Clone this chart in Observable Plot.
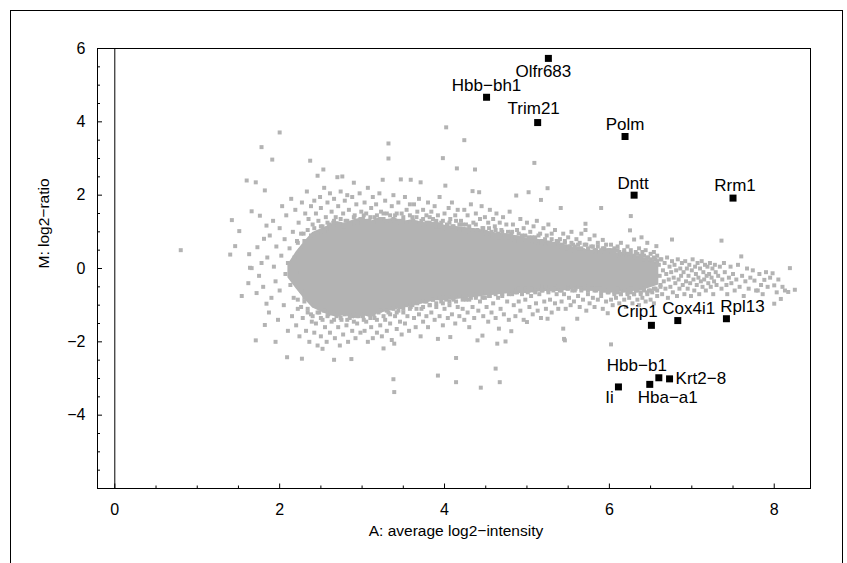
<!DOCTYPE html>
<html><head><meta charset="utf-8">
<script src="https://cdn.jsdelivr.net/npm/d3@7"></script>
<script src="https://cdn.jsdelivr.net/npm/@observablehq/plot@0.6"></script>
<style>
body{margin:0;background:#fff;}
#wrap{position:relative;width:847px;height:563px;overflow:hidden;background:#fff;}
#border{position:absolute;left:10px;top:10px;width:833px;height:600px;border:1px solid #000;box-sizing:border-box;}
#chart{position:absolute;left:0;top:0;}
</style></head>
<body><div id="wrap"><div id="border"></div><div id="chart"></div></div>
<script>
// Highlighted genes
const geneNames = ["Olfr683","Hbb\u2212bh1","Trim21","Polm","Dntt","Rrm1","Crip1","Cox4i1","Rpl13","Hbb\u2212b1","Krt2\u22128","Hba\u2212a1","Ii"];
const geneA = [5.26, 4.51, 5.13, 6.19, 6.30, 7.50, 6.51, 6.83, 7.42, 6.60, 6.73, 6.49, 6.11];
const geneM = [5.73, 4.67, 3.98, 3.60, 2.00, 1.92, -1.55, -1.42, -1.37, -2.98, -3.01, -3.16, -3.23];

// Dense core of the cloud (A, upper M, lower M)
const coreA  = [2.1, 2.2, 2.3, 2.4, 2.5, 2.6, 2.7, 2.8, 2.9, 3.0, 3.1, 3.2, 3.3, 3.4, 3.5, 3.6, 3.7, 3.8, 3.9, 4.0, 4.2, 4.4, 4.6, 4.8, 5.0, 5.2, 5.4, 5.6, 5.8, 6.0, 6.2, 6.4, 6.6];
const coreHi = [0.1, 0.45, 0.73, 0.98, 1.08, 1.18, 1.28, 1.23, 1.33, 1.38, 1.28, 1.38, 1.33, 1.38, 1.28, 1.33, 1.28, 1.23, 1.28, 1.18, 1.13, 1.08, 0.98, 0.93, 0.83, 0.78, 0.68, 0.55, 0.5, 0.45, 0.4, 0.3, 0.15];
const coreLo = [-0.25, -0.55, -0.83, -1.08, -1.18, -1.28, -1.33, -1.28, -1.38, -1.28, -1.33, -1.23, -1.18, -1.13, -1.08, -1.03, -0.98, -0.93, -0.88, -0.88, -0.83, -0.78, -0.73, -0.68, -0.68, -0.63, -0.63, -0.55, -0.6, -0.65, -0.65, -0.6, -0.45];

// Background genes along the edge of the dense core [A, M]
const edgePoints = [
[2.22,0.7],[2.26,0.95],[2.3,0.75],[2.34,1.05],[2.38,0.9],[2.42,1.1],[2.46,0.95],[2.5,1.15],[2.54,1.0],[2.58,1.25],[2.62,1.1],[2.66,1.3],[2.7,1.2],[2.74,1.35],[2.78,1.15],[2.82,1.3],[2.86,1.2],[2.9,1.4],[2.94,1.25],[2.98,1.35],[3.02,1.45],[3.06,1.3],[3.1,1.4],[3.14,1.25],[3.18,1.45],[3.22,1.35],[3.26,1.5],[3.3,1.3],[3.34,1.45],[3.38,1.35],[3.42,1.5],[3.46,1.3],[3.5,1.4],[3.54,1.25],[3.58,1.45],[3.62,1.3],[3.66,1.4],[3.7,1.2],[3.74,1.35],[3.78,1.25],[3.82,1.4],[3.86,1.2],[3.9,1.3],[3.94,1.15],[3.98,1.3],[4.02,1.1],[4.06,1.25],[4.1,1.15],[4.14,1.3],[4.18,1.05],[4.22,1.2],[4.26,1.0],[4.3,1.15],[4.34,1.05],[4.38,1.2],[4.42,0.95],[4.46,1.1],[4.5,1.0],[4.54,1.1],[4.58,0.9],[4.62,1.05],[4.66,0.85],[4.7,1.0],[4.74,0.9],[4.78,0.85],[4.82,1.0],[4.86,0.85],[4.9,0.95],[4.94,0.8],[4.98,0.9],[5.02,0.75],[5.06,0.85],[5.1,0.75],[5.14,0.9],[5.18,0.7],[5.22,0.8],[5.26,0.7],[5.3,0.8],[5.34,0.65],[5.38,0.75],[5.42,0.65],[5.46,0.75],[5.5,0.6],[5.54,0.7],[5.58,0.6],[5.62,0.65],[5.66,0.55],[5.7,0.65],[5.74,0.55],[5.78,0.6],[5.82,0.5],[5.86,0.6],[5.9,0.5],[5.94,0.55],[5.98,0.45],[6.02,0.5],[6.06,0.45],[6.1,0.5],[6.14,0.4],[6.18,0.45],[6.22,0.4],[6.26,0.4],[6.3,0.35],[6.34,0.4],[6.38,0.3],[6.42,0.35],[6.46,0.3],[6.5,0.25],[6.54,0.3],[6.58,0.2],[6.62,0.25],
[2.22,-0.85],[2.26,-1.05],[2.3,-0.8],[2.34,-1.1],[2.38,-1.25],[2.42,-1.0],[2.46,-1.2],[2.5,-1.35],[2.54,-1.15],[2.58,-1.3],[2.62,-1.2],[2.66,-1.4],[2.7,-1.25],[2.74,-1.35],[2.78,-1.2],[2.82,-1.4],[2.86,-1.3],[2.9,-1.45],[2.94,-1.3],[2.98,-1.25],[3.02,-1.4],[3.06,-1.2],[3.1,-1.35],[3.14,-1.25],[3.18,-1.4],[3.22,-1.15],[3.26,-1.3],[3.3,-1.15],[3.34,-1.25],[3.38,-1.1],[3.42,-1.2],[3.46,-1.05],[3.5,-1.2],[3.54,-1.0],[3.58,-1.1],[3.62,-0.95],[3.66,-1.1],[3.7,-0.9],[3.74,-1.05],[3.78,-0.9],[3.82,-1.0],[3.86,-0.85],[3.9,-0.95],[3.94,-0.8],[3.98,-0.95],[4.02,-0.8],[4.06,-0.9],[4.1,-0.8],[4.14,-0.9],[4.18,-0.75],[4.22,-0.85],[4.26,-0.75],[4.3,-0.85],[4.34,-0.7],[4.38,-0.8],[4.42,-0.7],[4.46,-0.8],[4.5,-0.65],[4.54,-0.75],[4.58,-0.65],[4.62,-0.7],[4.66,-0.6],[4.7,-0.75],[4.74,-0.6],[4.78,-0.7],[4.82,-0.6],[4.86,-0.65],[4.9,-0.55],[4.94,-0.65],[4.98,-0.55],[5.02,-0.6],[5.06,-0.55],[5.1,-0.65],[5.14,-0.5],[5.18,-0.6],[5.22,-0.5],[5.26,-0.6],[5.3,-0.5],[5.34,-0.55],[5.38,-0.5],[5.42,-0.6],[5.46,-0.5],[5.5,-0.55],[5.54,-0.5],[5.58,-0.6],[5.62,-0.5],[5.66,-0.55],[5.7,-0.5],[5.74,-0.6],[5.78,-0.55],[5.82,-0.6],[5.86,-0.55],[5.9,-0.65],[5.94,-0.6],[5.98,-0.65],[6.02,-0.6],[6.06,-0.7],[6.1,-0.65],[6.14,-0.7],[6.18,-0.6],[6.22,-0.7],[6.26,-0.65],[6.3,-0.7],[6.34,-0.6],[6.38,-0.7],[6.42,-0.6],[6.46,-0.65],[6.5,-0.6],[6.54,-0.55],[6.58,-0.6],[6.62,-0.5]
];

// Scattered background genes [A, M]
const bgPoints = [
[0.80,0.50],[1.40,0.38],[1.42,1.32],[1.46,0.61],[1.51,1.02],[1.54,-0.75],[1.60,2.40],[1.62,-0.40],[1.63,0.39],[1.64,0.02],[1.66,0.01],[1.66,1.56],[1.71,2.35],[1.71,-1.96],[1.72,-0.67],[1.73,0.58],[1.76,1.44],[1.78,3.31],[1.81,0.81],[1.82,2.13],[1.82,-1.54],[1.84,1.17],[1.84,-0.96],[1.91,2.97],[1.95,-2.0],[2.0,3.71],[2.09,-2.42],[2.27,-2.46],[2.37,2.94],[2.53,2.70],[2.52,-2.19],
[1.75,-0.2],[1.78,0.15],[1.8,-0.5],[1.85,0.3],[1.87,-1.2],[1.88,0.9],[1.9,-0.8],[1.92,1.3],[1.93,0.05],[1.95,-0.35],[1.96,0.6],[1.98,-1.4],[2.0,1.1],[2.0,-0.6],[2.02,0.35],[2.03,1.7],[2.05,-1.0],[2.06,0.8],[2.07,-0.15],[2.08,1.45],[2.1,-1.7],[2.1,0.15],[2.12,0.55],[2.13,-0.45],[2.14,1.9],[2.15,-1.3],[2.16,1.0],[2.17,-0.8],[2.18,0.3],[2.19,1.6],[2.2,-1.55],[2.2,-0.1],[2.21,0.75],[2.22,-1.1],[2.23,1.25],[2.24,-1.85],[2.25,0.5],[2.26,-0.6],[2.27,1.8],[2.28,-1.35],[2.29,0.95],[2.3,-0.9],[2.31,1.5],[2.32,-1.7],[2.33,2.1],[2.34,-1.2],[2.35,1.35],[2.36,-2.0],[2.38,1.7],[2.39,-1.45],
[2.4,1.2],[2.42,1.85],[2.44,1.5],[2.46,2.53],[2.47,1.3],[2.49,1.95],[2.5,1.65],[2.52,1.15],[2.54,2.2],[2.56,1.4],[2.58,1.8],[2.6,1.2],[2.61,2.05],[2.63,1.55],[2.65,1.25],[2.66,1.9],[2.68,1.4],[2.7,2.49],[2.71,1.7],[2.73,1.2],[2.74,2.1],[2.76,2.51],[2.77,1.5],[2.79,1.85],[2.8,1.3],[2.82,2.0],[2.84,1.6],[2.86,1.25],[2.88,1.95],[2.9,2.34],[2.91,1.45],[2.93,1.75],[2.95,1.3],[2.97,2.05],[2.99,1.55],
[2.4,-1.3],[2.42,-1.75],[2.44,-1.5],[2.46,-2.1],[2.48,-1.2],[2.5,-1.85],[2.52,-1.4],[2.55,-1.6],[2.57,-2.0],[2.59,-1.25],[2.61,-1.75],[2.63,-1.45],[2.66,-2.49],[2.67,-1.9],[2.69,-1.3],[2.71,-1.6],[2.73,-2.1],[2.75,-1.4],[2.77,-1.8],[2.79,-1.25],[2.81,-1.55],[2.83,-2.0],[2.85,-1.35],[2.87,-2.47],[2.88,-1.7],[2.9,-1.25],[2.92,-1.9],[2.94,-1.5],[2.96,-1.3],[2.98,-1.75],
[3.01,1.35],[3.03,1.8],[3.05,1.5],[3.07,2.2],[3.09,1.3],[3.11,1.65],[3.13,1.95],[3.15,1.4],[3.17,1.75],[3.19,1.3],[3.21,2.05],[3.23,1.55],[3.25,2.42],[3.26,1.35],[3.28,1.85],[3.3,1.5],[3.32,3.41],[3.32,3.0],[3.34,1.3],[3.36,1.7],[3.38,2.0],[3.4,1.45],[3.42,1.25],[3.44,1.8],[3.47,2.43],[3.48,1.5],[3.5,1.3],[3.52,1.95],[3.54,1.6],[3.56,1.25],[3.59,2.42],[3.58,1.75],
[3.01,-1.3],[3.03,-1.7],[3.05,-1.45],[3.07,-2.0],[3.09,-1.25],[3.11,-1.6],[3.13,-1.9],[3.15,-1.35],[3.18,-1.75],[3.2,-1.2],[3.22,-1.55],[3.24,-1.85],[3.26,-2.18],[3.28,-1.4],[3.3,-1.7],[3.32,-1.2],[3.34,-1.5],[3.36,-1.95],[3.38,-3.02],[3.39,-3.37],[3.39,-2.05],[3.4,-1.3],[3.42,-1.65],[3.44,-1.15],[3.46,-1.45],[3.48,-1.8],[3.5,-1.1],[3.52,-1.5],[3.55,-1.3],[3.57,-1.7],[3.59,-1.05],
[3.61,1.4],[3.63,1.75],[3.65,1.25],[3.67,1.55],[3.69,1.9],[3.71,2.35],[3.72,1.3],[3.74,1.6],[3.76,1.2],[3.78,1.45],[3.8,1.8],[3.82,1.25],[3.84,1.55],[3.86,1.35],[3.88,1.7],[3.9,1.15],[3.92,1.45],[3.94,1.95],[3.96,1.25],[3.98,3.01],[4.0,1.5],[4.01,2.26],[4.02,3.85],[4.03,1.2],[4.05,1.65],[4.07,1.35],[4.09,1.8],[4.11,1.15],[4.13,1.45],[4.15,2.73],[4.16,1.6],[4.18,1.2],
[3.61,-1.0],[3.63,-1.35],[3.65,-1.6],[3.67,-0.95],[3.69,-1.25],[3.71,-1.85],[3.72,-1.1],[3.74,-1.45],[3.76,-0.9],[3.78,-1.3],[3.8,-1.6],[3.82,-1.0],[3.84,-1.2],[3.86,-0.85],[3.88,-1.4],[3.9,-1.05],[3.92,-1.92],[3.92,-2.92],[3.94,-1.3],[3.96,-0.9],[3.98,-1.55],[4.0,-1.1],[4.02,-0.85],[4.04,-1.35],[4.06,-1.0],[4.07,-1.87],[4.09,-1.25],[4.11,-0.85],[4.13,-1.5],[4.14,-2.44],[4.14,-3.10],[4.16,-1.05],[4.18,-1.3],
[4.2,1.3],[4.22,1.05],[4.24,3.50],[4.24,1.6],[4.26,1.2],[4.28,1.45],[4.3,1.0],[4.32,1.75],[4.34,2.11],[4.35,1.25],[4.37,2.70],[4.38,1.5],[4.4,1.05],[4.42,2.08],[4.43,1.35],[4.45,1.7],[4.47,1.1],[4.49,1.4],[4.51,0.95],[4.53,1.25],[4.55,1.6],[4.57,1.0],[4.59,1.35],[4.61,1.15],[4.63,1.5],[4.65,0.95],[4.67,1.25],[4.69,1.05],[4.71,1.4],[4.73,0.9],[4.75,1.2],[4.77,1.0],[4.79,1.55],
[4.2,-0.75],[4.22,-1.1],[4.24,-1.4],[4.26,-0.85],[4.28,-1.2],[4.3,-1.6],[4.32,-0.8],[4.34,-1.05],[4.36,-1.35],[4.38,-0.75],[4.4,-1.96],[4.41,-1.15],[4.43,-0.9],[4.44,-3.25],[4.46,-1.83],[4.47,-1.3],[4.49,-0.8],[4.51,-1.05],[4.53,-1.45],[4.55,-0.75],[4.57,-1.2],[4.59,-0.95],[4.62,-2.73],[4.62,-1.35],[4.64,-2.05],[4.65,-0.8],[4.66,-1.64],[4.67,-3.10],[4.68,-1.1],[4.7,-0.7],[4.72,-1.25],[4.74,-1.99],[4.76,-0.9],[4.78,-1.4],
[4.81,0.95],[4.83,1.2],[4.85,0.8],[4.87,1.99],[4.88,1.05],[4.9,0.75],[4.92,1.35],[4.94,0.9],[4.96,1.1],[4.98,0.75],[5.0,1.25],[5.02,2.08],[5.02,0.85],[5.04,1.0],[5.06,0.7],[5.08,1.15],[5.09,2.88],[5.1,0.85],[5.12,1.3],[5.14,0.7],[5.17,1.87],[5.16,0.95],[5.18,0.75],[5.2,1.1],[5.22,0.65],[5.24,0.9],[5.25,2.19],[5.26,1.2],[5.28,0.7],[5.3,0.95],[5.32,0.6],[5.34,1.05],[5.36,0.75],[5.38,0.6],
[4.81,-1.71],[4.82,-0.7],[4.84,-1.0],[4.86,-1.3],[4.88,-0.65],[4.9,-0.9],[4.92,-1.15],[4.94,-0.7],[4.96,-1.4],[4.98,-0.85],[5.0,-1.46],[5.01,-0.65],[5.03,-1.05],[5.05,-0.75],[5.07,-1.25],[5.09,-0.6],[5.11,-0.95],[5.13,-1.15],[5.15,-0.7],[5.17,-1.35],[5.19,-0.6],[5.21,-0.9],[5.23,-1.1],[5.25,-1.37],[5.26,-0.65],[5.28,-0.85],[5.3,-1.2],[5.32,-0.6],[5.34,-0.95],[5.36,-0.7],[5.38,-1.1],
[5.4,0.8],[5.41,1.65],[5.42,0.6],[5.44,0.95],[5.46,0.7],[5.48,0.55],[5.5,0.85],[5.52,0.6],[5.54,1.0],[5.56,0.65],[5.58,0.5],[5.6,0.8],[5.62,0.55],[5.64,0.7],[5.66,0.95],[5.68,0.5],[5.71,1.22],[5.71,1.05],[5.72,0.65],[5.74,0.5],[5.76,0.8],[5.78,0.45],[5.8,0.6],[5.82,0.9],[5.84,0.5],[5.86,0.7],[5.88,0.45],[5.9,1.65],[5.92,0.78],[5.92,0.55],[5.94,0.45],[5.96,0.65],[5.98,0.5],
[5.4,-0.6],[5.42,-0.9],[5.44,-1.64],[5.45,-1.92],[5.46,-1.96],[5.45,-0.7],[5.47,-1.1],[5.49,-0.55],[5.51,-0.8],[5.53,-1.0],[5.55,-0.6],[5.57,-0.9],[5.59,-0.55],[5.61,-1.37],[5.62,-0.75],[5.64,-1.05],[5.66,-0.6],[5.68,-0.85],[5.7,-0.55],[5.72,-1.15],[5.74,-0.7],[5.76,-0.95],[5.78,-0.55],[5.8,-0.8],[5.82,-1.05],[5.84,-0.6],[5.86,-0.85],[5.88,-0.55],[5.9,-0.75],[5.92,-1.1],[5.94,-0.6],[5.96,-0.9],[5.98,-1.22],[5.99,-0.65],
[6.0,0.5],[6.02,0.65],[6.04,0.4],[6.06,0.55],[6.08,0.35],[6.1,0.6],[6.12,0.45],[6.14,0.7],[6.16,0.35],[6.18,0.5],[6.2,0.4],[6.22,0.6],[6.25,1.04],[6.26,1.43],[6.24,0.35],[6.26,0.5],[6.28,0.3],[6.3,0.79],[6.32,0.45],[6.34,0.3],[6.36,0.55],[6.39,0.85],[6.38,0.35],[6.4,0.45],[6.42,0.25],[6.44,0.5],[6.46,0.70],[6.47,0.3],[6.5,0.4],[6.52,0.2],[6.54,0.45],[6.57,0.61],[6.56,0.25],[6.58,0.35],
[6.0,-0.6],[6.02,-2.07],[6.02,-0.85],[6.04,-1.0],[6.06,-0.65],[6.08,-0.8],[6.1,-0.55],[6.12,-0.95],[6.14,-0.7],[6.16,-0.6],[6.18,-0.85],[6.2,-1.05],[6.22,-0.65],[6.24,-0.8],[6.26,-0.55],[6.28,-0.95],[6.3,-0.7],[6.32,-0.6],[6.34,-0.85],[6.36,-1.0],[6.38,-0.65],[6.4,-0.8],[6.42,-0.55],[6.44,-0.9],[6.46,-0.7],[6.48,-0.6],[6.5,-0.85],[6.52,-0.65],[6.54,-0.95],[6.56,-0.55],[6.58,-0.75],
[6.6,0.1],[6.61,-0.2],[6.62,-0.45],[6.63,0.25],[6.64,-0.7],[6.65,-0.05],[6.66,-0.35],[6.67,0.15],[6.68,-0.55],[6.69,-0.15],[6.7,0.3],[6.71,-0.8],[6.72,-0.3],[6.73,0.05],[6.74,-0.5],[6.75,-0.1],[6.76,0.79],[6.76,0.2],[6.77,-0.65],[6.78,-0.25],[6.79,0.1],[6.8,-0.4],[6.81,-0.05],[6.82,-0.75],[6.83,0.25],[6.84,-0.3],[6.85,-0.55],[6.86,0.0],[6.87,-0.2],[6.88,0.15],[6.89,-0.45],[6.9,-0.1],[6.91,-0.7],[6.92,0.2],[6.93,-0.35],[6.94,0.0],[6.95,-0.55],[6.96,-0.2],[6.97,0.1],[6.98,-0.4],[6.99,-0.75],
[7.0,-0.05],[7.01,0.25],[7.02,-0.3],[7.03,-0.6],[7.04,0.05],[7.05,-0.15],[7.06,-0.45],[7.07,0.15],[7.08,-0.25],[7.09,-0.7],[7.1,0.0],[7.11,-0.35],[7.12,0.2],[7.13,-0.5],[7.14,-0.1],[7.15,-0.3],[7.16,0.1],[7.17,-0.6],[7.18,-0.2],[7.19,0.05],[7.2,-0.4],[7.21,-0.15],[7.22,0.15],[7.23,-0.5],[7.24,-0.25],[7.25,0.0],[7.26,-0.7],[7.27,-0.35],[7.28,0.1],[7.29,-0.1],[7.3,-0.45],[7.32,-0.2],[7.34,0.05],[7.36,0.76],[7.36,-0.55],[7.37,-0.3],[7.39,0.15],[7.4,-0.1],[7.42,-0.45],[7.43,-0.7],[7.45,-0.25],[7.47,0.05],[7.48,-0.4],[7.5,-0.15],[7.52,-0.6],[7.54,-0.3],[7.56,0.1],[7.58,-0.5],[7.6,0.33],[7.61,-0.2],[7.63,-0.75],[7.65,-0.35],[7.67,0.0],[7.69,-0.55],[7.71,-0.25],[7.74,-0.05],[7.76,-0.33],[7.78,-0.6],[7.8,-0.6],[7.82,-0.15],[7.84,-0.45],[7.86,-0.7],[7.88,-0.31],[7.9,-0.1],[7.92,-0.5],[7.95,-0.25],[7.98,-0.13],[8.0,-0.46],[8.0,-0.96],[8.03,-0.65],[8.05,-0.3],[8.08,-0.83],[8.1,-0.5],[8.13,-0.6],[8.17,-0.64],[8.19,0.01],[8.25,-0.58]
];

// Axis ticks and titles
const xMajorTicks = [0, 2, 4, 6, 8];
const xMinorTicks = [0.5, 1, 1.5, 2.5, 3, 3.5, 4.5, 5, 5.5, 6.5, 7, 7.5];
const yMajorTicks = [6, 4, 2, 0, -2, -4];
const yMinorTicks = [5.5, 5, 4.5, 3.5, 3, 2.5, 1.5, 1, 0.5, -0.5, -1, -1.5, -2.5, -3, -3.5, -4.5, -5, -5.5];
const xTitle = "A: average log2\u2212intensity";
const yTitle = "M: log2\u2212ratio";

// label placement (layout only)
const labelPlacement = {
  "Olfr683": {dx: -5, dy: 13},
  "Hbb\u2212bh1": {dx: 0, dy: -12},
  "Trim21": {dx: -4, dy: -14},
  "Polm": {dx: 0, dy: -12},
  "Dntt": {dx: -1, dy: -12},
  "Rrm1": {dx: 2, dy: -13},
  "Crip1": {dx: -14, dy: -14},
  "Cox4i1": {dx: 11, dy: -12},
  "Rpl13": {dx: 16, dy: -12},
  "Hbb\u2212b1": {dx: -22, dy: -12},
  "Krt2\u22128": {dx: 6, dy: 0, textAnchor: "start"},
  "Hba\u2212a1": {dx: 18, dy: 13},
  "Ii": {dx: -9, dy: 11}
};

const genes = geneNames.map((name, i) => ({name, A: geneA[i], M: geneM[i]}));
const core = coreA.map((a, i) => ({A: a, hi: coreHi[i], lo: coreLo[i]}));
const background = bgPoints.concat(edgePoints).map(([A, M]) => ({A, M}));

const gray = "#b3b3b3";
const font = "'Liberation Sans', Arial, Helvetica, sans-serif";

const chart = Plot.plot({
  width: 847, height: 563,
  marginLeft: 97, marginRight: 37, marginTop: 48, marginBottom: 75,
  x: {domain: [-0.21, 8.44], label: null},
  y: {domain: [-6, 6], label: null},
  style: {fontFamily: font, background: "transparent", color: "#000"},
  marks: [
    Plot.areaY(core, {x: "A", y1: "lo", y2: "hi", fill: gray}),
    Plot.dot(background, {x: "A", y: "M", symbol: "square", r: 2.25, fill: gray, stroke: null}),
    Plot.ruleX([0], {stroke: "#000", strokeWidth: 1}),
    Plot.frame({stroke: "#000", strokeWidth: 1}),
    Plot.axisX(xMinorTicks, {tickSize: -2.5, tickFormat: () => "", stroke: "#000", label: null}),
    Plot.axisX(xMajorTicks, {tickSize: -4.5, tickFormat: () => "", stroke: "#000", label: null}),
    Plot.axisX(xMajorTicks, {tickSize: 0, tickPadding: 15, fontSize: 16, tickFormat: d3.format("d"), label: null}),
    Plot.axisY(yMinorTicks, {tickSize: -3, tickFormat: () => "", stroke: "#000", label: null}),
    Plot.axisY(yMajorTicks, {tickSize: -5, tickFormat: () => "", stroke: "#000", label: null}),
    Plot.axisY(yMajorTicks, {tickSize: 0, tickPadding: 12, fontSize: 16, tickFormat: d3.format("d"), label: null}),
    Plot.text([xTitle], {text: d => d, frameAnchor: "bottom", dy: 47, dx: 2, fontSize: 15.5}),
    Plot.text([yTitle], {text: d => d, frameAnchor: "left", dx: -53, rotate: -90, fontSize: 15.5}),
    Plot.dot(genes, {x: "A", y: "M", symbol: "square", r: 3.95, fill: "#000", stroke: null}),
    ...genes.map(g => {
      const p = labelPlacement[g.name];
      return Plot.text([g], {x: "A", y: "M", text: "name", dx: p.dx, dy: p.dy, textAnchor: p.textAnchor || "middle", fontSize: 17, fill: "#000"});
    })
  ]
});
document.getElementById("chart").appendChild(chart);
</script>
</body></html>
